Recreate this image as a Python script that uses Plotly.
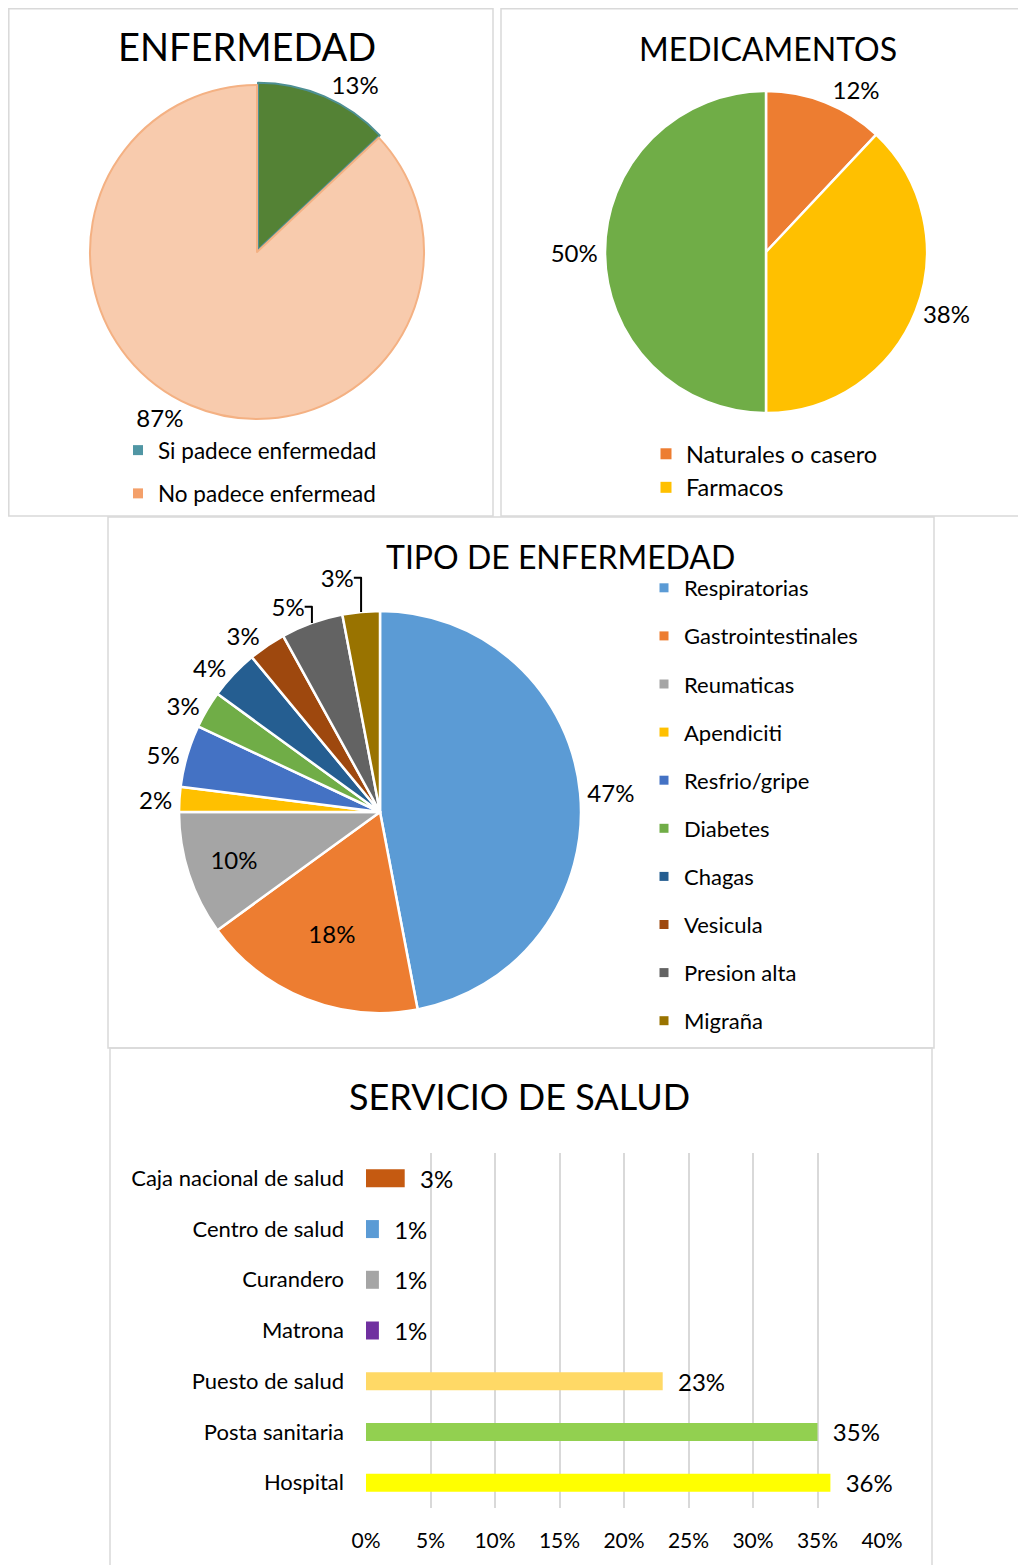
import plotly.graph_objects as go

# The page body adds an 8px offset; the figure is sized/positioned to compensate.
OFF = 8
FW, FH = 1026 - OFF, 1565 - OFF

# ---------------- data ----------------
enf_labels = ["Si padece enfermedad", "No padece enfermead"]
enf_values = [13, 87]

med_labels = ["Naturales o casero", "Farmacos", "Otro"]
med_values = [12, 38, 50]
med_legend = med_labels[:2]

tipo_labels = ["Respiratorias", "Gastrointestinales", "Reumaticas", "Apendiciti",
               "Resfrio/gripe", "Diabetes", "Chagas", "Vesicula", "Presion alta", "Migraña"]
tipo_values = [47, 18, 10, 2, 5, 3, 4, 3, 5, 3]

serv_labels = ["Caja nacional de salud", "Centro de salud", "Curandero", "Matrona",
               "Puesto de salud", "Posta sanitaria", "Hospital"]
serv_values = [0.03, 0.01, 0.01, 0.01, 0.23, 0.35, 0.36]
x_ticks = [0, 0.05, 0.10, 0.15, 0.20, 0.25, 0.30, 0.35, 0.40]

# ---------------- styles ----------------
FONT = "Lato, 'Open Sans', sans-serif"
enf_colors = ["#548235", "#F8CBAD"]
enf_edge = ["#4E8F93", "#F4B183"]
enf_legend_colors = ["#5096A4", "#F4A06A"]
med_colors = ["#ED7D31", "#FFC000", "#70AD47"]
tipo_colors = ["#5B9BD5", "#ED7D31", "#A5A5A5", "#FFC000", "#4472C4",
               "#70AD47", "#255E91", "#9E480E", "#636363", "#997300"]
serv_colors = ["#C55A11", "#5B9BD5", "#A5A5A5", "#7030A0", "#FFD966", "#92D050", "#FFFF00"]


def px_x(x):
    return (x - OFF) / FW


def px_y(y):
    return 1 - (y - OFF) / FH


def dom(cx, cy, r):
    return dict(x=[px_x(cx - r), px_x(cx + r)], y=[px_y(cy + r), px_y(cy - r)])


fig = go.Figure()

# Pie 1: ENFERMEDAD (small slice slightly pulled out)
enf_pull = [0.015, 0]
fig.add_trace(go.Pie(
    labels=enf_labels, values=enf_values, sort=False, direction="clockwise", rotation=0,
    marker=dict(colors=enf_colors, line=dict(color=enf_edge, width=2)),
    pull=enf_pull,
    texttemplate="%{percent:.0%}", textposition="outside",
    textfont=dict(family=FONT, size=24, color="#000000"),
    domain=dom(257, 252, 169.5), showlegend=False,
))

# Pie 2: MEDICAMENTOS
fig.add_trace(go.Pie(
    labels=med_labels, values=med_values, sort=False, direction="clockwise", rotation=0,
    marker=dict(colors=med_colors, line=dict(color="#FFFFFF", width=2.5)),
    texttemplate="%{percent:.0%}", textposition="outside",
    textfont=dict(family=FONT, size=24, color="#000000"),
    domain=dom(766, 252, 161), showlegend=False,
))

# Pie 3: TIPO DE ENFERMEDAD
tipo_pos = ["outside", "inside", "inside"] + ["outside"] * 7
fig.add_trace(go.Pie(
    labels=tipo_labels, values=tipo_values, sort=False, direction="clockwise", rotation=0,
    marker=dict(colors=tipo_colors, line=dict(color="#FFFFFF", width=2.5)),
    texttemplate="%{percent:.0%}", textposition=tipo_pos,
    insidetextorientation="horizontal",
    textfont=dict(family=FONT, size=24, color="#000000"),
    domain=dom(380, 812, 201), showlegend=False,
))

# Bar chart: SERVICIO DE SALUD
fig.add_trace(go.Bar(
    x=serv_values, y=serv_labels, orientation="h",
    marker=dict(color=serv_colors, line=dict(width=0)),
    texttemplate="\u00a0\u00a0%{x:.0%}", textposition="outside", cliponaxis=False,
    constraintext="none",
    textfont=dict(family=FONT, size=24, color="#000000"),
    showlegend=False, xaxis="x", yaxis="y",
))

# Legend entries (no data drawn)
for i, name in enumerate(enf_labels):
    fig.add_trace(go.Scatter(x=[None], y=[None], mode="markers", name=name,
                             marker=dict(symbol="square", size=10, color=enf_legend_colors[i]),
                             legend="legend", legendgroup="e%d" % i, xaxis="x2", yaxis="y2"))
for i, name in enumerate(med_legend):
    fig.add_trace(go.Scatter(x=[None], y=[None], mode="markers", name=name,
                             marker=dict(symbol="square", size=11, color=med_colors[i]),
                             legend="legend2", legendgroup="m%d" % i, xaxis="x2", yaxis="y2"))
for i, name in enumerate(tipo_labels):
    fig.add_trace(go.Scatter(x=[None], y=[None], mode="markers", name=name,
                             marker=dict(symbol="square", size=9, color=tipo_colors[i]),
                             legend="legend3", legendgroup="t%d" % i, xaxis="x2", yaxis="y2"))

# Panel borders
shapes = []
for (x0, y0, x1, y1) in [(8.8, 8.8, 493, 516), (501, 8.8, 1040, 516),
                         (108, 517, 934, 1048), (110, 1048, 932, 1580)]:
    shapes.append(dict(type="rect", xref="paper", yref="paper",
                       x0=px_x(x0), x1=px_x(x1), y0=px_y(y1), y1=px_y(y0),
                       line=dict(color="#D9D9D9", width=1.5), fillcolor="rgba(0,0,0,0)", layer="below"))

titles = [("ENFERMEDAD", 247, 46, 38), ("MEDICAMENTOS", 768, 49, 32),
          ("TIPO DE ENFERMEDAD", 560, 556, 32), ("SERVICIO DE SALUD", 520, 1096, 36)]
annotations = [dict(text=t, x=px_x(x), y=px_y(y), xref="paper", yref="paper", showarrow=False,
                    xanchor="center", yanchor="middle", font=dict(family=FONT, size=s, color="#000000"))
               for t, x, y, s in titles]

leg_common = dict(xanchor="left", yanchor="top", traceorder="grouped",
                  bgcolor="rgba(0,0,0,0)", itemsizing="trace")

fig.update_layout(
    width=FW, height=FH, margin=dict(l=0, r=0, t=0, b=0, autoexpand=False),
    paper_bgcolor="#FFFFFF", plot_bgcolor="#FFFFFF",
    font=dict(family=FONT, color="#000000"),
    shapes=shapes, annotations=annotations,
    bargap=0.645,
    xaxis=dict(domain=[px_x(366), px_x(882)], range=[0, 0.40], tickvals=x_ticks, tickformat=".0%",
               showgrid=True, gridcolor="#D9D9D9", gridwidth=1.5, zeroline=False, showline=False,
               ticks="", tickfont=dict(family=FONT, size=21, color="#000000"), automargin=False,
               ticklabelstandoff=18, fixedrange=True, anchor="y"),
    yaxis=dict(domain=[px_y(1508), px_y(1153)], autorange="reversed", showgrid=False,
               zeroline=False, showline=False, ticks="", automargin=False,
               tickfont=dict(family=FONT, size=22, color="#000000"),
               ticklabelstandoff=21, fixedrange=True, anchor="x"),
    xaxis2=dict(domain=[0, 0.001], visible=False, anchor="y2", automargin=False),
    yaxis2=dict(domain=[0, 0.001], visible=False, anchor="x2", automargin=False),
    legend=dict(x=px_x(118), y=px_y(429), font=dict(family=FONT, size=22.5, color="#000000"),
                tracegroupgap=11, **leg_common),
    legend2=dict(x=px_x(646), y=px_y(432), font=dict(family=FONT, size=23.5, color="#000000"),
                 tracegroupgap=0, **leg_common),
    legend3=dict(x=px_x(644), y=px_y(567), font=dict(family=FONT, size=22, color="#000000"),
                 tracegroupgap=16.5, **leg_common),
)

fig.write_html("out.html")
